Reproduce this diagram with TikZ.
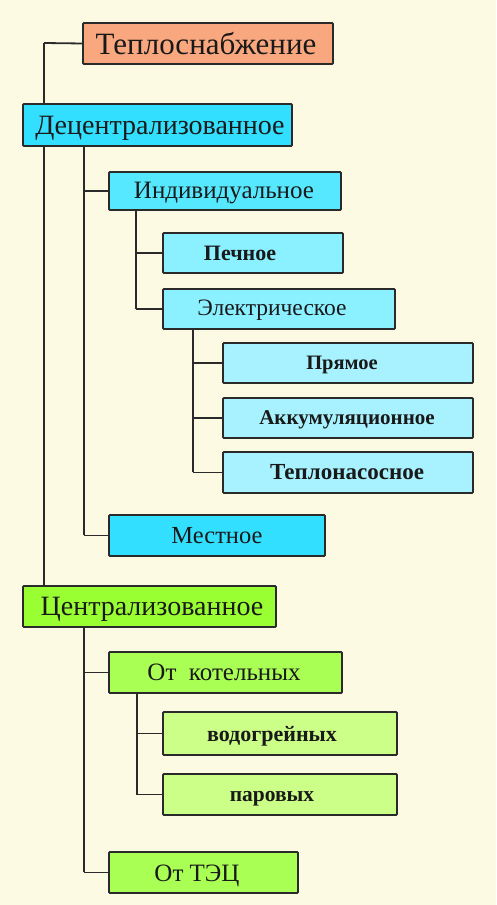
\documentclass[tikz,border=0pt]{standalone}
\usepackage{fontspec}
\setmainfont{Liberation Serif}
\definecolor{bgc}{HTML}{FDFAE4}
\definecolor{salmon}{HTML}{F9A77E}
\definecolor{cyanA}{HTML}{33DFFF}
\definecolor{cyanB}{HTML}{55E8FF}
\definecolor{cyanC}{HTML}{8BF0FF}
\definecolor{cyanD}{HTML}{A8F2FF}
\definecolor{greenA}{HTML}{99FF33}
\definecolor{greenB}{HTML}{AAFF55}
\definecolor{greenC}{HTML}{CCFF88}
\definecolor{edge}{HTML}{2A2A2A}
\tikzset{
  box/.style={draw=edge, line width=1.8pt, rounded corners=1pt, anchor=north west, inner sep=0pt, outer sep=0pt},
  lbl/.style={inner sep=0pt, anchor=base, text=black!90},
  conn/.style={draw=edge, line width=1.8pt},
}
\begin{document}
\begin{tikzpicture}[x=1pt,y=-1pt]
\fill[bgc] (0,0) rectangle (496,905);
\useasboundingbox (0,0) rectangle (496,905);
% connectors (behind boxes)
\coordinate (v0) at (44,43);
\coordinate (v1) at (44,586);
\coordinate (d0) at (84,146);
\coordinate (d1) at (84,535);
\coordinate (i0) at (136,210);
\coordinate (i1) at (136,309);
\coordinate (e0) at (193,329);
\coordinate (e1) at (193,472);
\coordinate (c0) at (84,627);
\coordinate (c1) at (84,872);
\coordinate (k0) at (137,693);
\coordinate (k1) at (137,795);
\draw[conn] (v0) -- (v1);
\draw[conn] (d0) -- (d1);
\draw[conn] (i0) -- (i1);
\draw[conn] (e0) -- (e1);
\draw[conn] (c0) -- (c1);
\draw[conn] (k0) -- (k1);
% boxes
\node[box, fill=salmon, minimum width=250pt, minimum height=41pt] (teplo) at (83,23) {};
\node[box, fill=cyanA, minimum width=269pt, minimum height=42pt] (decent) at (23,104) {};
\node[box, fill=cyanB, minimum width=232pt, minimum height=38pt] (indiv) at (109,172) {};
\node[box, fill=cyanC, minimum width=180pt, minimum height=40pt] (pech) at (163,233) {};
\node[box, fill=cyanC, minimum width=232pt, minimum height=40pt] (elek) at (163,289) {};
\node[box, fill=cyanD, minimum width=250pt, minimum height=40pt] (pryam) at (223,343) {};
\node[box, fill=cyanD, minimum width=250pt, minimum height=40pt] (akkum) at (223,398) {};
\node[box, fill=cyanD, minimum width=250pt, minimum height=41pt] (teplon) at (223,452) {};
\node[box, fill=cyanA, minimum width=216pt, minimum height=41pt] (mest) at (109,515) {};
\node[box, fill=greenA, minimum width=253pt, minimum height=41pt] (centr) at (23,586) {};
\node[box, fill=greenB, minimum width=233pt, minimum height=41pt] (kotel) at (109,652) {};
\node[box, fill=greenC, minimum width=234pt, minimum height=43pt] (vodo) at (163,712) {};
\node[box, fill=greenC, minimum width=234pt, minimum height=41pt] (parov) at (163,774) {};
\node[box, fill=greenB, minimum width=189pt, minimum height=41pt] (tec) at (109,852) {};
% stubs
\draw[conn] (v0) -- (teplo.west);
\draw[conn] (indiv.west -| d0) -- (indiv.west);
\draw[conn] (mest.west -| d0) -- (mest.west);
\draw[conn] (pech.west -| i0) -- (pech.west);
\draw[conn] (elek.west -| i0) -- (elek.west);
\draw[conn] (pryam.west -| e0) -- (pryam.west);
\draw[conn] (akkum.west -| e0) -- (akkum.west);
\draw[conn] (teplon.west -| e0) -- (teplon.west);
\draw[conn] (kotel.west -| c0) -- (kotel.west);
\draw[conn] (tec.west -| c0) -- (tec.west);
\draw[conn] (vodo.west -| k0) -- (vodo.west);
\draw[conn] (parov.west -| k0) -- (parov.west);
% labels
\node[lbl, font=\fontsize{31}{32}\selectfont] (teplot) at (206,54) {Теплоснабжение};
\node[lbl, font=\fontsize{28}{30}\selectfont] (decentt) at (160,134) {Децентрализованное};
\node[lbl, font=\fontsize{25}{27}\selectfont] (indivt) at (224,198) {Индивидуальное};
\node[lbl, font=\bfseries\fontsize{22}{24}\selectfont] (pecht) at (240,260) {Печное};
\node[lbl, font=\fontsize{23.5}{25}\selectfont] (elekt) at (272,315) {Электрическое};
\node[lbl, font=\bfseries\fontsize{20.5}{22}\selectfont] (pryamt) at (342,369) {Прямое};
\node[lbl, font=\bfseries\fontsize{21}{23}\selectfont] (akkumt) at (347,424) {Аккумуляционное};
\node[lbl, font=\bfseries\fontsize{23}{25}\selectfont] (teplont) at (347,479) {Теплонасосное};
\node[lbl, font=\fontsize{24.5}{26}\selectfont] (mestt) at (217,543) {Местное};
\node[lbl, font=\fontsize{28}{30}\selectfont] (centrt) at (152,615) {Централизованное};
\node[lbl, font=\fontsize{25}{27}\selectfont] (kotelt) at (224,680) {От\ \ котельных};
\node[lbl, font=\bfseries\fontsize{22}{24}\selectfont] (vodot) at (272,741) {водогрейных};
\node[lbl, font=\bfseries\fontsize{21.5}{23}\selectfont] (parovt) at (272,801) {паровых};
\node[lbl, font=\fontsize{25}{27}\selectfont] (tect) at (197,881) {От ТЭЦ};
\end{tikzpicture}
\end{document}
